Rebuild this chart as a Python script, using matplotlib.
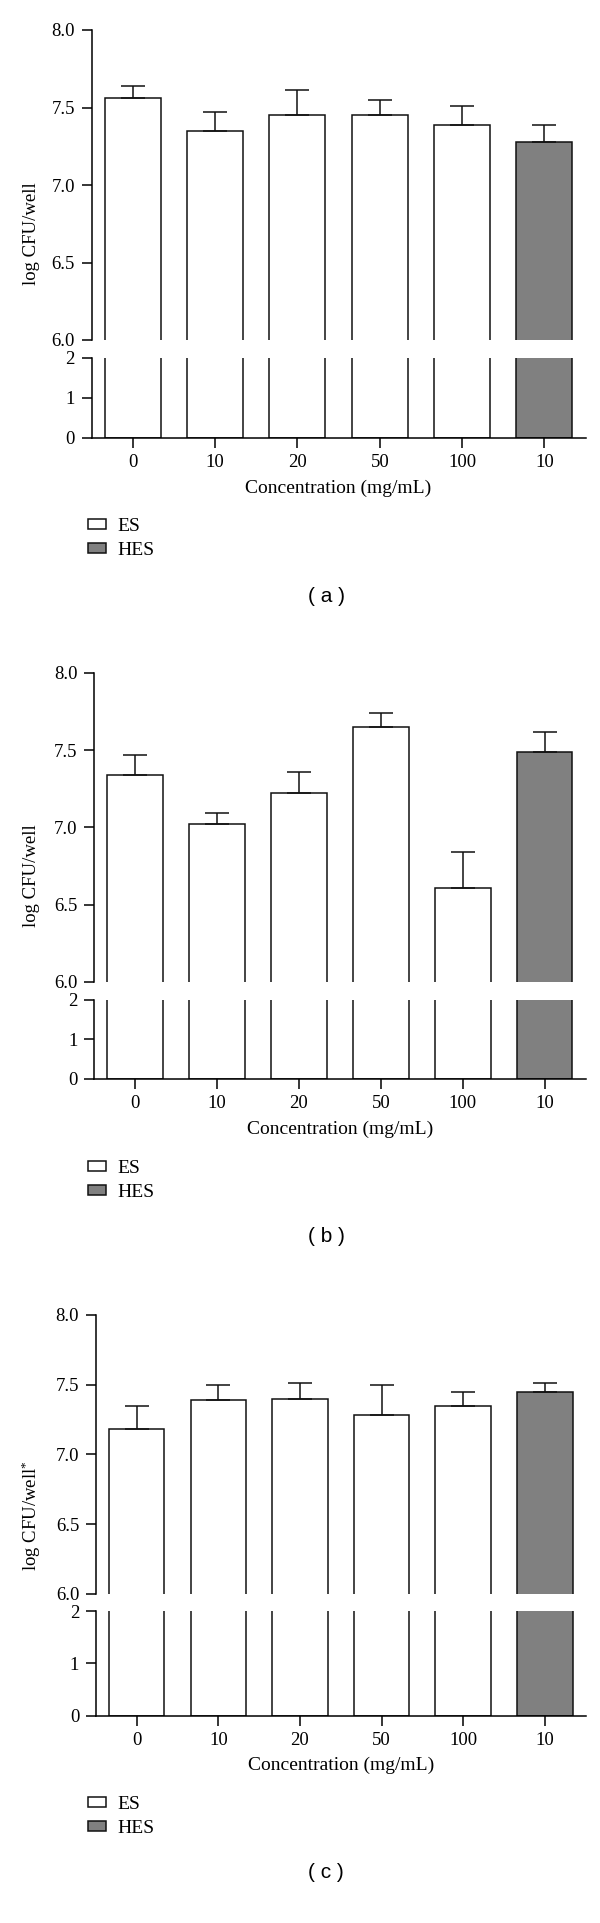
import numpy as np
import matplotlib.pyplot as plt
from matplotlib.patches import Patch

# datos (log CFU/well)
conc = ['0', '10', '20', '50', '100', '10']
grupo = ['ES', 'ES', 'ES', 'ES', 'ES', 'HES']

a_media = [7.56, 7.35, 7.45, 7.45, 7.39, 7.28]
a_err = [0.08, 0.12, 0.16, 0.10, 0.12, 0.11]
b_media = [7.34, 7.02, 7.22, 7.65, 6.61, 7.49]
b_err = [0.13, 0.07, 0.14, 0.09, 0.23, 0.13]
c_media = [7.18, 7.39, 7.40, 7.28, 7.35, 7.45]
c_err = [0.17, 0.11, 0.11, 0.22, 0.10, 0.06]

W, H = 600, 1923
plt.rcParams['font.family'] = ['Liberation Serif', 'DejaVu Serif']
plt.rcParams['font.size'] = 13.5
plt.rcParams['mathtext.fontset'] = 'custom'
plt.rcParams['mathtext.rm'] = 'Liberation Serif'
plt.rcParams['mathtext.it'] = 'Liberation Serif:italic'
fig = plt.figure(figsize=(W / 100, H / 100), dpi=100)

colores = {'ES': 'white', 'HES': '#808080'}


def caja(x0, x1, top, bottom):
    return [x0 / W, 1 - bottom / H, (x1 - x0) / W, (bottom - top) / H]


def panel(media, err, ylabel, letra, x0, arriba, abajo, ley_top, txt_y):
    x1 = 585.6
    ax_up = fig.add_axes(caja(x0, x1, arriba[0], arriba[1]))
    ax_lo = fig.add_axes(caja(x0, x1, abajo[0], abajo[1]))
    x = np.arange(len(conc))
    cols = [colores[g] for g in grupo]
    for ax in (ax_up, ax_lo):
        for i in x:
            ax.bar(x[i], media[i], width=0.68, color=cols[i], edgecolor='#111111',
                   linewidth=1.1, label=grupo[i])
        ax.set_xlim(-0.5, 5.5)
        ax.spines['top'].set_visible(False)
        ax.spines['right'].set_visible(False)
        ax.spines['left'].set_linewidth(1.1)
        ax.spines['bottom'].set_linewidth(1.1)
        ax.tick_params(direction='out', length=7, width=1.1, pad=5)
        ax.tick_params(which='minor', direction='in', length=3.5, width=1.1)
    ax_up.errorbar(x, media, yerr=[np.zeros(len(x)), err], fmt='none',
                   ecolor='#111111', elinewidth=1.1, capsize=8.5, capthick=1.1)
    ax_up.set_ylim(6, 8)
    ax_up.set_yticks([6.0, 6.5, 7.0, 7.5, 8.0])
    ax_up.set_yticklabels(['6.0', '6.5', '7.0', '7.5', '8.0'])
    ax_up.set_yticks([6.0], minor=True)
    ax_up.spines['bottom'].set_visible(False)
    ax_up.set_xticks([])
    ax_lo.set_ylim(0, 2)
    ax_lo.set_yticks([0, 1, 2])
    ax_lo.set_yticks([2], minor=True)
    ax_lo.set_xticks(x)
    ax_lo.set_xticklabels(conc)

    cx = (x0 + x1) / 2
    fig.text(31 / W, 1 - (arriba[0] + abajo[1]) / 2 / H, ylabel, rotation=90,
             ha='center', va='center', fontsize=13.5)
    fig.text(cx / W, 1 - txt_y[0] / H, 'Concentration (mg/mL)', ha='center',
             va='center', fontsize=14)
    h = [Patch(facecolor='white', edgecolor='#111111', linewidth=1.1),
         Patch(facecolor='#808080', edgecolor='#111111', linewidth=1.1)]
    fig.legend(h, ['ES', 'HES'], loc='upper left',
               bbox_to_anchor=(88 / W, 1 - ley_top / H), frameon=False,
               borderpad=0, borderaxespad=0, handlelength=0.95, handleheight=0.4,
               handletextpad=0.55, labelspacing=0.35, fontsize=14)
    fig.text(326 / W, 1 - txt_y[1] / H, '( ' + letra + ' )', ha='center',
             va='center', fontsize=15, family=['Liberation Sans', 'DejaVu Sans'])


panel(a_media, a_err, 'log CFU/well', 'a', 91.6, (30, 340), (358, 437.6), 518, (488, 596))
panel(b_media, b_err, 'log CFU/well', 'b', 94, (672.9, 981.7), (999.5, 1078.7), 1160, (1129, 1236))
panel(c_media, c_err, 'log CFU/well$^{*}$', 'c', 95.9, (1314.8, 1593.9), (1611.3, 1715.6), 1796, (1765, 1872))

plt.savefig('out.png', dpi=100)
